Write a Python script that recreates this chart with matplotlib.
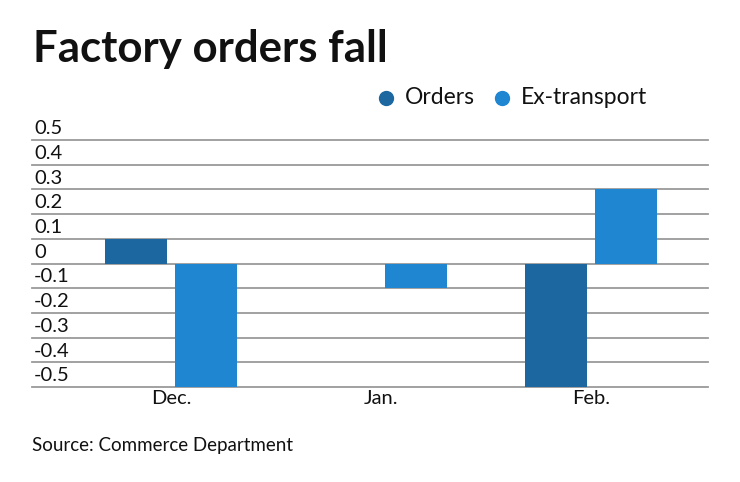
import matplotlib
matplotlib.use("Agg")
import matplotlib.pyplot as plt
import matplotlib.transforms as mtransforms
import numpy as np

categories = ["Dec.", "Jan.", "Feb."]
orders = [0.1, 0.0, -0.5]
ex_transport = [-0.5, -0.1, 0.3]
yticks = [0.5, 0.4, 0.3, 0.2, 0.1, 0.0, -0.1, -0.2, -0.3, -0.4, -0.5]
ytick_labels = ["0.5", "0.4", "0.3", "0.2", "0.1", "0", "-0.1", "-0.2", "-0.3", "-0.4", "-0.5"]

c_orders = "#1c67a0"
c_ex = "#1f86d1"
FONT = "Lato"

W, H = 740, 482
fig = plt.figure(figsize=(W / 100, H / 100), dpi=100)
fig.patch.set_facecolor("white")

ax_l, ax_r, ax_t, ax_b = 32, 708, 140, 387
ax = fig.add_axes([ax_l / W, 1 - ax_b / H, (ax_r - ax_l) / W, (ax_b - ax_t) / H])

x = np.arange(len(categories))
bw = 0.295
off = 0.1667
ax.bar(x - off, orders, width=bw, color=c_orders, zorder=3)
ax.bar(x + off, ex_transport, width=bw, color=c_ex, zorder=3)

ax.set_xlim(-0.664, 2.555)
ax.set_ylim(-0.5, 0.5)
ax.set_yticks(yticks)
ax.yaxis.grid(True, color="#9a9a9a", linewidth=1.3, zorder=1)
for gl in ax.get_ygridlines():
    gl.set_clip_on(False)
ax.tick_params(axis="y", length=0, labelleft=False)
ax.set_xticks(x)
ax.set_xticklabels(categories, fontsize=14.5, fontfamily=FONT, color="#111111")
ax.tick_params(axis="x", length=0, pad=2)
for s in ax.spines.values():
    s.set_visible(False)

trans = mtransforms.blended_transform_factory(ax.transAxes, ax.transData)
for v, lab in zip(yticks, ytick_labels):
    ax.text(0.003, v, lab, transform=trans + mtransforms.ScaledTranslation(0, 2 / 72, fig.dpi_scale_trans),
            ha="left", va="bottom", fontsize=14.5, fontfamily=FONT, color="#111111")

fig.text(33 / W, 1 - 62 / H, "Factory orders fall", fontsize=31.5, fontweight="bold",
         fontfamily=FONT, color="#111111", ha="left", va="baseline")

# legend
ly = 1 - 98 / H
fig.lines.append(plt.Line2D([386 / W], [ly], marker="o", markersize=10, color=c_orders,
                            linestyle="none", transform=fig.transFigure))
fig.text(405 / W, ly, "Orders", fontsize=16.5, fontfamily=FONT, color="#111111", ha="left", va="center")
fig.lines.append(plt.Line2D([502 / W], [ly], marker="o", markersize=10, color=c_ex,
                            linestyle="none", transform=fig.transFigure))
fig.text(521 / W, ly, "Ex-transport", fontsize=16.5, fontfamily=FONT, color="#111111", ha="left", va="center")

fig.text(32 / W, 1 - 445 / H, "Source: Commerce Department", fontsize=13.5, fontfamily=FONT,
         color="#111111", ha="left", va="center")

fig.savefig("out.png", dpi=100, facecolor="white")
